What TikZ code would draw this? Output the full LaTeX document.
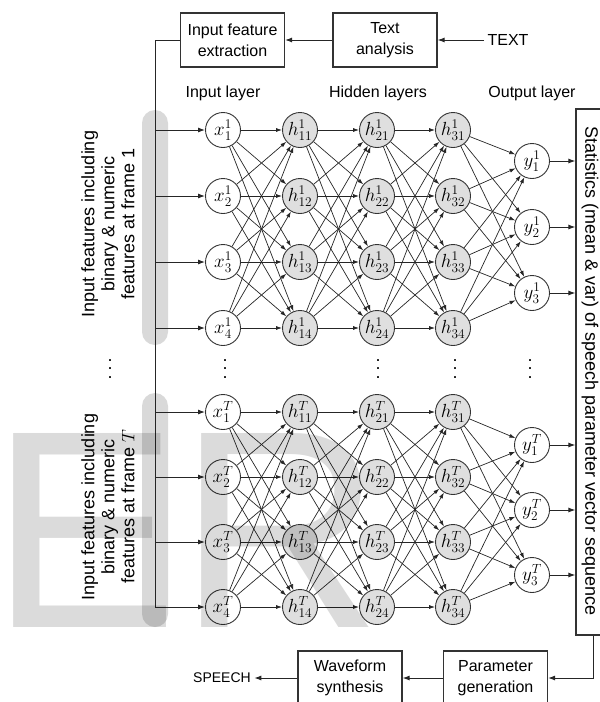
\RequirePackage{fix-cm}
\documentclass[tikz,border=0pt]{standalone}
\usepackage{fontspec}
\setmainfont{Liberation Sans}
\usetikzlibrary{arrows.meta}

% three widely spaced dots
\newcommand{\wideVdots}{\vbox{\baselineskip=8.5pt\lineskiplimit=0pt
  \hbox{.}\hbox{.}\hbox{.}}}

\begin{document}
\begin{tikzpicture}[x=1pt,y=-1pt,
  every node/.style={font=\fontsize{16}{21}\selectfont},
  box/.style={draw=black!80, line width=1.2pt, minimum width=104pt,
              minimum height=54pt, align=center, inner sep=0pt},
  unit/.style={circle, draw=black!80, line width=0.9pt, minimum size=35pt,
               inner sep=0pt, fill=white, font=\fontsize{19}{21}\selectfont},
  hid/.style={unit, fill=gray!25},
  arr/.style={-{Latex[length=7pt,width=5pt]}, line width=1pt, draw=black!85},
  link/.style={-{Latex[length=6pt,width=4pt]}, line width=0.7pt, draw=black!85},
  pill/.style={fill=gray!30, rounded corners=13pt},
  vd/.style={font=\fontsize{18}{18}\selectfont, inner sep=0pt},
  framelab/.style={rotate=90, align=center, font=\fontsize{18}{20}\selectfont},
]
\useasboundingbox (0,0) rectangle (600,702);
\clip (0,0) rectangle (600,702);

% grey bars behind the input taps of each frame
\fill[pill] (142,110) rectangle (168,345);
\fill[pill] (142,393) rectangle (168,627);

% front end
\node[box] (ife) at (232.5,40) {Input feature\\extraction};
\node[box] (ta) at (385,40) {Text\\analysis};
\node (txt) at (508,40) {TEXT};
\draw[arr] (txt) -- (ta);
\draw[arr] (ta) -- (ife);

% layer titles
\node (tin) at (223,93) {Input layer};
\node (thid) at (378,93) {Hidden layers};
\node (tout) at (532,93) {Output layer};

% output statistics box
\node[draw=black!80, line width=1.2pt, minimum width=34pt, minimum height=526pt,
      inner sep=0pt] (stats) at (593,372) {};
\node[rotate=-90, inner sep=0pt, font=\fontsize{18}{20}\selectfont] (statslab)
  at (590,371) {Statistics (mean \& var) of speech parameter vector sequence};

% network units for frame 1 and frame T
\foreach \fr/\yo/\dy/\yy in {1/130/66/161, T/412/65/445} {
  \foreach \i in {1,...,4} {
    \node[unit] (x\fr\i) at (223,{\yo+(\i-1)*\dy}) {$x^{\fr}_{\i}$};
    \node[hid]  (a\fr\i) at (300,{\yo+(\i-1)*\dy}) {$h^{\fr}_{1\i}$};
    \node[hid]  (b\fr\i) at (377,{\yo+(\i-1)*\dy}) {$h^{\fr}_{2\i}$};
    \node[hid]  (c\fr\i) at (453,{\yo+(\i-1)*\dy}) {$h^{\fr}_{3\i}$};
  }
  \foreach \j in {1,2,3}
    \node[unit] (y\fr\j) at (532,{\yy+(\j-1)*\dy}) {$y^{\fr}_{\j}$};
}

% input bus from feature extraction
\coordinate (bus) at (155,40);
\draw[line width=1pt, draw=black!85] (ife.west) -- (bus) -- (bus|-xT4);

% connections
\foreach \fr in {1,T} {
  \foreach \i in {1,...,4} \foreach \j in {1,...,4} {
    \draw[link] (x\fr\i) -- (a\fr\j);
    \draw[link] (a\fr\i) -- (b\fr\j);
    \draw[link] (b\fr\i) -- (c\fr\j);
  }
  \foreach \i in {1,...,4} \foreach \j in {1,2,3}
    \draw[link] (c\fr\i) -- (y\fr\j);
  \foreach \i in {1,...,4}
    \draw[arr] (bus|-x\fr\i) -- (x\fr\i);
  \foreach \j in {1,2,3}
    \draw[arr] (y\fr\j) -- (stats.west|-y\fr\j);
}

% frame labels
\node[framelab] (lab1) at (108,224)
  {Input features including\\binary \& numeric\\features at frame 1};
\node[framelab] (labT) at (108,507)
  {Input features including\\binary \& numeric\\features at frame $T$};

% ellipses between frames
\node[vd] (d0) at (110,369) {\wideVdots};
\node[vd] (d1) at (225,369) {\wideVdots};
\node[vd] (d3) at (378,369) {\wideVdots};
\node[vd] (d4) at (455,369) {\wideVdots};
\node[vd] (d5) at (530,369) {\wideVdots};

% back end
\node[box] (pg) at (495.5,678) {Parameter\\generation};
\node[box] (ws) at (350,678) {Waveform\\synthesis};
\node[font=\fontsize{14}{16}\selectfont] (sp) at (222,678) {SPEECH};
\draw[arr] (stats.south) |- (pg.east);
\draw[arr] (pg) -- (ws);
\draw[arr] (ws) -- (sp);

% watermark
\node[anchor=base west, inner sep=0pt, font=\fontsize{282}{282}\selectfont,
      text=black, text opacity=0.14] (wm) at (-10,627) {ER};
\end{tikzpicture}
\end{document}
